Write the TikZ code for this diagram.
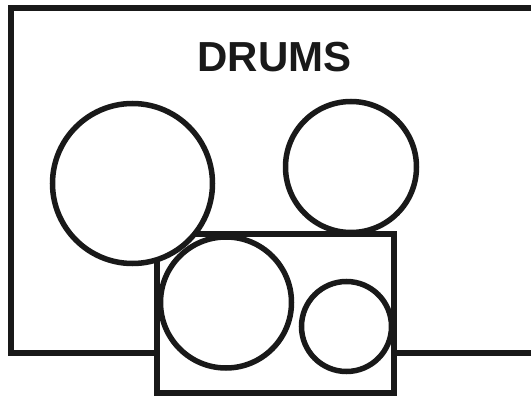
\documentclass[tikz,border=0pt]{standalone}
\usepackage{fontspec}
\setmainfont{Liberation Sans}
\begin{document}
\begin{tikzpicture}[x=1pt,y=-1pt,
  shape line/.style={draw=black!90, line width=5.5pt, fill=white},
  drum/.style={circle, shape line, inner sep=0pt}]
\clip (0,0) rectangle (531,396);
\fill[white] (0,0) rectangle (531,396);
% back frame
\draw[shape line] (11,8) rectangle (545,353);
\node[font=\bfseries\fontsize{42}{42}\selectfont, text=black!90] (title) at (274.5,57) {DRUMS};
% front box
\draw[shape line] (157,234) rectangle (394,393);
% drums
\node[drum, minimum size=160pt] (d1) at (132.5,183.5) {};
\node[drum, minimum size=131pt] (d2) at (351,167) {};
\node[drum, minimum size=131pt] (d3) at (226,302.5) {};
\node[drum, minimum size=90pt] (d4) at (346.5,326.5) {};
\end{tikzpicture}
\end{document}
